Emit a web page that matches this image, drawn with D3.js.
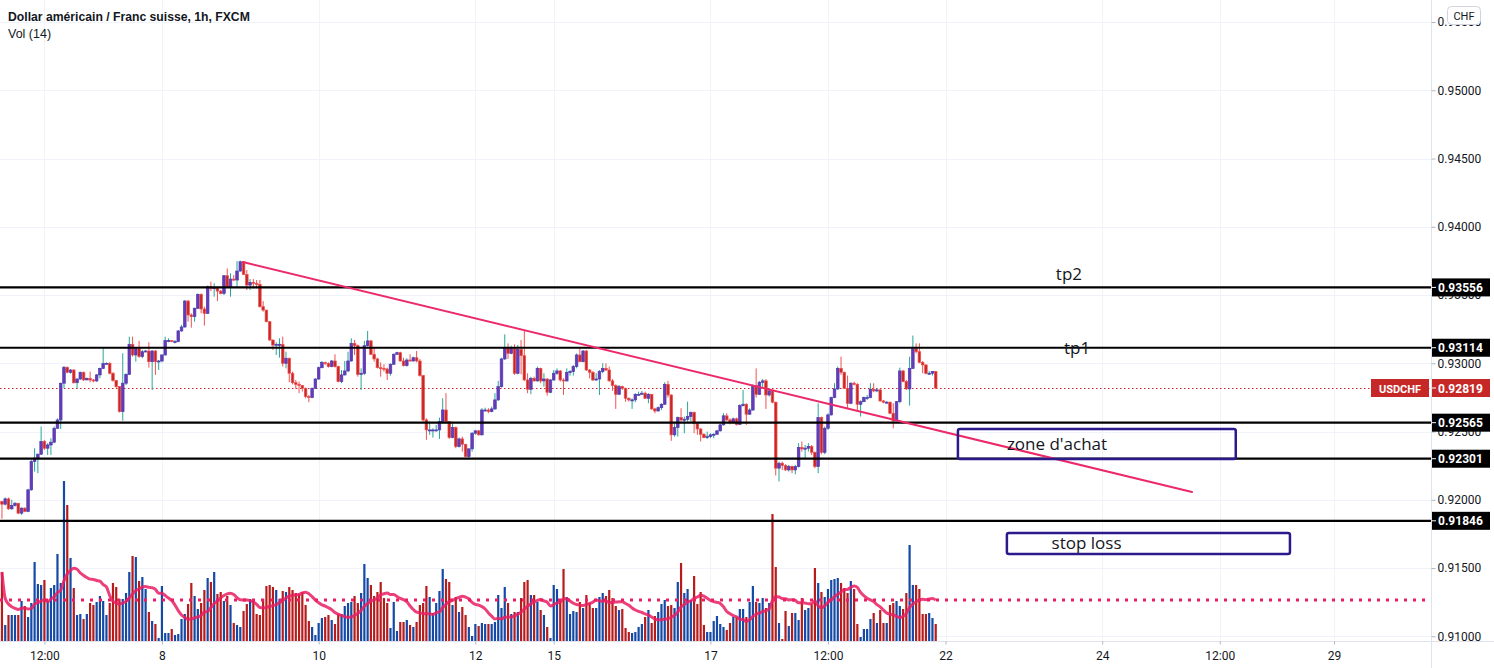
<!DOCTYPE html>
<html><head><meta charset="utf-8">
<script src="https://cdn.jsdelivr.net/npm/d3@7"></script>
<style>html,body{margin:0;padding:0;background:#fff;overflow:hidden}</style>
</head><body><svg id="c" width="1494" height="668"></svg>
<script>
const firstOpen = 0.91987;
const closes = [
0.91968,0.92007,0.91934,0.91958,0.91975,0.91902,0.91939,0.91915,0.92073,0.92280,
0.92305,0.92334,0.92427,0.92378,0.92402,0.92422,0.92524,0.92585,0.92854,0.92971,
0.92934,0.92951,0.92858,0.92885,0.92934,0.92878,0.92890,0.92878,0.92871,0.92915,
0.92963,0.92998,0.93000,0.92927,0.92873,0.92829,0.92646,0.92854,0.92919,0.93139,
0.93061,0.93110,0.93049,0.93085,0.93090,0.93012,0.93090,0.93012,0.93017,0.93061,
0.93166,0.93166,0.93159,0.93159,0.93237,0.93266,0.93456,0.93354,0.93342,0.93403,
0.93505,0.93398,0.93366,0.93561,0.93549,0.93554,0.93529,0.93512,0.93642,0.93561,
0.93617,0.93610,0.93676,0.93744,0.93651,0.93573,0.93593,0.93586,0.93578,0.93415,
0.93390,0.93305,0.93171,0.93134,0.93139,0.93139,0.93000,0.93037,0.92927,0.92858,
0.92846,0.92837,0.92817,0.92756,0.92749,0.92817,0.92885,0.92968,0.93007,0.93000,
0.92976,0.93017,0.92976,0.92866,0.92915,0.92944,0.93017,0.93146,0.93129,0.92919,
0.92927,0.93129,0.93164,0.93066,0.93032,0.92968,0.92963,0.92958,0.92927,0.92993,
0.93066,0.93078,0.93017,0.92983,0.93024,0.93017,0.93041,0.93017,0.92910,0.92585,
0.92512,0.92512,0.92512,0.92512,0.92573,0.92658,0.92573,0.92456,0.92529,0.92390,
0.92446,0.92407,0.92317,0.92373,0.92488,0.92505,0.92476,0.92658,0.92658,0.92646,
0.92666,0.92732,0.92829,0.93032,0.93110,0.93073,0.93110,0.92927,0.93102,0.93056,
0.92878,0.92810,0.92890,0.92871,0.92963,0.92871,0.92885,0.92788,0.92878,0.92927,
0.92944,0.92878,0.92871,0.92934,0.92939,0.92976,0.93061,0.93012,0.93090,0.92951,
0.92934,0.92878,0.92885,0.92939,0.92963,0.92951,0.92871,0.92837,0.92773,0.92829,
0.92817,0.92744,0.92732,0.92732,0.92773,0.92773,0.92781,0.92744,0.92773,0.92666,
0.92651,0.92675,0.92700,0.92846,0.92768,0.92476,0.92529,0.92602,0.92585,0.92590,
0.92610,0.92641,0.92561,0.92519,0.92480,0.92456,0.92463,0.92476,
0.92480,0.92505,0.92549,0.92615,0.92585,
0.92566,0.92593,0.92553,0.92690,0.92700,
0.92627,0.92658,0.92837,0.92773,0.92861,0.92871,0.92768,0.92798,0.92715,0.92232,
0.92268,0.92251,0.92219,0.92244,0.92219,0.92244,0.92383,0.92373,0.92378,0.92390,
0.92348,0.92244,0.92602,0.92348,0.92524,0.92622,0.92749,0.92812,0.92963,0.92934,0.92817,
0.92707,0.92854,0.92846,0.92700,0.92719,0.92749,0.92749,0.92810,
0.92798,0.92805,0.92724,0.92715,0.92715,0.92634,0.92578,0.92719,0.92944,0.92866,
0.92812,0.92963,0.93105,0.93085,0.93007,0.92988,0.92927,0.92927,0.92939,0.92819
];
const highs = [
0.91992,0.92017,0.92017,0.92000,0.91982,0.91975,0.91944,0.91944,0.92080,0.92292,
0.92378,0.92339,0.92537,0.92439,0.92415,0.92451,0.92537,0.92597,0.92858,0.92980,
0.92976,0.92958,0.92956,0.92890,0.92939,0.92939,0.92895,0.92939,0.92885,0.92922,
0.92968,0.93110,0.93007,0.93007,0.92934,0.92878,0.92834,0.93073,0.92927,0.93195,
0.93195,0.93115,0.93164,0.93098,0.93098,0.93154,0.93098,0.93098,0.93024,0.93066,
0.93195,0.93183,0.93171,0.93171,0.93244,0.93281,0.93464,0.93464,0.93366,0.93408,
0.93512,0.93512,0.93415,0.93569,0.93598,0.93586,0.93561,0.93537,0.93647,0.93695,
0.93659,0.93647,0.93749,0.93752,0.93749,0.93683,0.93617,0.93617,0.93610,0.93610,
0.93456,0.93390,0.93310,0.93171,0.93154,0.93183,0.93195,0.93085,0.93041,0.92939,
0.92878,0.92866,0.92841,0.92822,0.92768,0.92822,0.92890,0.92976,0.93017,0.93012,
0.93007,0.93024,0.93066,0.92983,0.92951,0.93017,0.93085,0.93183,0.93171,0.93139,
0.92963,0.93164,0.93237,0.93171,0.93110,0.93041,0.93007,0.92993,0.92968,0.93000,
0.93073,0.93085,0.93085,0.93041,0.93037,0.93066,0.93049,0.93090,0.93032,0.92915,
0.92597,0.92573,0.92524,0.92549,0.92602,0.92744,0.92781,0.92573,0.92561,0.92537,
0.92456,0.92463,0.92407,0.92378,0.92495,0.92512,0.92512,0.92671,0.92675,0.92671,
0.92683,0.92781,0.92871,0.93041,0.93212,0.93146,0.93129,0.93139,0.93134,0.93171,
0.93244,0.92927,0.92902,0.92902,0.92976,0.92968,0.92927,0.92890,0.92885,0.92951,
0.92963,0.92951,0.92890,0.92963,0.92951,0.92988,0.93073,0.93110,0.93098,0.93098,
0.92958,0.92944,0.92927,0.92951,0.93000,0.93000,0.92976,0.92885,0.92846,0.92841,
0.92837,0.92822,0.92749,0.92744,0.92781,0.92793,0.92798,0.92793,0.92781,0.92773,
0.92675,0.92683,0.92707,0.92861,0.92871,0.92773,0.92561,0.92610,0.92671,0.92610,
0.92719,0.92646,0.92646,0.92561,0.92524,0.92488,0.92500,0.92488,
0.92488,0.92512,0.92561,0.92634,0.92634,
0.92597,0.92602,0.92602,0.92700,0.92805,
0.92707,0.92671,0.92846,0.92963,0.92871,0.92885,0.92885,0.92817,0.92805,0.92719,
0.92280,0.92280,0.92261,0.92256,0.92251,0.92256,0.92415,0.92427,0.92402,0.92415,
0.92402,0.92353,0.92707,0.92610,0.92537,0.92634,0.92756,0.92854,0.92976,0.93049,0.92939,
0.92910,0.92861,0.92866,0.92854,0.92729,0.92756,0.92768,0.92854,
0.92854,0.92817,0.92817,0.92732,0.92724,0.92719,0.92707,0.92724,0.92968,0.92951,
0.92878,0.93049,0.93203,0.93146,0.93146,0.93017,0.92993,0.92944,0.92944,0.92944
];
const lows = [
0.91861,0.91958,0.91927,0.91927,0.91951,0.91895,0.91890,0.91909,0.91909,0.92066,
0.92207,0.92195,0.92329,0.92366,0.92329,0.92329,0.92415,0.92519,0.92519,0.92817,
0.92927,0.92924,0.92851,0.92817,0.92878,0.92871,0.92878,0.92861,0.92861,0.92863,
0.92890,0.92958,0.92993,0.92919,0.92866,0.92817,0.92639,0.92580,0.92841,0.92915,
0.93049,0.93012,0.93041,0.93037,0.93081,0.92968,0.92805,0.92915,0.92951,0.93007,
0.93056,0.93154,0.93154,0.93146,0.93154,0.93232,0.93261,0.93305,0.93261,0.93305,
0.93398,0.93366,0.93276,0.93361,0.93529,0.93488,0.93456,0.93505,0.93500,0.93554,
0.93488,0.93603,0.93561,0.93671,0.93647,0.93537,0.93537,0.93549,0.93549,0.93408,
0.93378,0.93300,0.93164,0.93098,0.93061,0.93041,0.92976,0.92963,0.92861,0.92846,
0.92812,0.92781,0.92793,0.92744,0.92715,0.92744,0.92812,0.92878,0.92963,0.92988,
0.92968,0.92971,0.92968,0.92861,0.92854,0.92910,0.92934,0.93012,0.93061,0.92902,
0.92805,0.92915,0.93122,0.93061,0.93012,0.92963,0.92902,0.92939,0.92878,0.92910,
0.92988,0.93061,0.93012,0.92976,0.92976,0.93012,0.93012,0.93007,0.92902,0.92573,
0.92439,0.92476,0.92456,0.92500,0.92446,0.92561,0.92561,0.92446,0.92451,0.92378,
0.92383,0.92353,0.92310,0.92305,0.92353,0.92476,0.92471,0.92471,0.92646,0.92634,
0.92641,0.92658,0.92724,0.92822,0.93024,0.93032,0.93066,0.92915,0.92919,0.92919,
0.92871,0.92781,0.92773,0.92866,0.92866,0.92854,0.92829,0.92763,0.92781,0.92871,
0.92915,0.92866,0.92768,0.92866,0.92910,0.92910,0.92963,0.93007,0.93007,0.92944,
0.92890,0.92871,0.92871,0.92768,0.92927,0.92944,0.92866,0.92798,0.92666,0.92768,
0.92805,0.92719,0.92719,0.92666,0.92715,0.92763,0.92768,0.92739,0.92707,0.92658,
0.92634,0.92646,0.92658,0.92695,0.92749,0.92432,0.92463,0.92463,0.92573,0.92488,
0.92573,0.92573,0.92488,0.92476,0.92427,0.92451,0.92446,0.92451,
0.92451,0.92476,0.92500,0.92544,0.92578,
0.92553,0.92558,0.92544,0.92549,0.92683,
0.92549,0.92622,0.92651,0.92749,0.92768,0.92817,0.92666,0.92756,0.92707,0.92178,
0.92134,0.92219,0.92212,0.92207,0.92195,0.92187,0.92236,0.92353,0.92300,0.92353,
0.92329,0.92232,0.92195,0.92334,0.92334,0.92512,0.92617,0.92744,0.92805,0.92915,0.92812,
0.92671,0.92700,0.92837,0.92646,0.92610,0.92715,0.92732,0.92744,
0.92788,0.92788,0.92719,0.92707,0.92705,0.92627,0.92524,0.92573,0.92707,0.92861,
0.92805,0.92690,0.92958,0.93073,0.93000,0.92927,0.92919,0.92915,0.92910,0.92812
];
const volumes = [
69,16,26,26,26,26,40,35,24,38,79,57,56,61,40,53,56,87,58,160,
136,83,53,26,27,22,27,38,36,39,45,40,26,38,58,54,42,42,48,69,
85,84,60,64,52,29,20,17,3,55,8,8,12,6,7,22,27,37,58,45,
32,38,51,63,59,69,47,49,40,45,36,18,16,14,
30,37,42,42,27,26,42,55,56,54,51,42,50,49,54,51,48,47,49,36,
20,14,6,18,23,24,26,21,17,27,27,35,38,39,45,38,48,77,63,56,
45,49,59,43,38,13,39,10,19,19,21,16,14,19,36,38,55,44,28,38,
50,72,62,59,36,44,29,34,26,14,5,17,
15,18,17,17,17,19,46,33,54,38,27,29,29,43,59,61,46,46,39,31,
26,14,3,56,52,42,72,44,27,30,29,39,33,46,38,33,33,44,48,45,
51,43,35,31,32,13,9,8,9,14,17,24,31,18,25,29,37,41,35,36,
33,59,78,48,52,41,65,37,49,16,9,9,
20,25,17,14,11,18,24,24,32,32,24,39,55,39,38,43,33,38,127,74,
18,2,30,15,28,28,21,43,31,33,37,73,58,49,44,52,61,62,63,58,
53,48,60,52,17,4,12,12,22,28,18,31,18,18,36,38,40,35,32,48,
96,56,56,52,27,27,28,23,17
];
const priceTicks = [0.955,0.950,0.945,0.940,0.935,0.930,0.925,0.920,0.915,0.910];
const timeTicks = [
  {bar:13,label:"12:00"},{bar:49,label:"8"},{bar:97,label:"10"},{bar:145,label:"12"},
  {bar:169,label:"15"},{bar:217,label:"17"},{bar:253,label:"12:00"},{bar:289,label:"22"},
  {bar:337,label:"24"},{bar:373,label:"12:00"},{bar:408,label:"29"}
];
const levels = [0.93556,0.93114,0.92565,0.92301,0.91846];
const trendPts = [{bar:73.8,price:0.93742},{bar:364.5,price:0.92057}];
const notes = [{text:"tp2",bar:322.8,price:0.93608},{text:"tp1",bar:325.3,price:0.93065}];
const boxes = [
  {text:"zone d'achat",bar0:292.8,bar1:377.9,top:0.92519,bottom:0.92299,textBar:307.8},
  {text:"stop loss",bar0:307.8,bar1:394.5,top:0.91757,bottom:0.91603,textBar:321.5}
];
const symbol = "USDCHF", currency = "CHF";
const title = "Dollar américain / Franc suisse, 1h, FXCM";
const volTitle = "Vol (14)";

const W = 1494, H = 668, plotR = 1431, plotB = 641;
const svg = d3.select("#c");
const font = "Roboto, 'Liberation Sans', Arial, sans-serif";

const x = d3.scaleLinear().domain([-0.6, 437.7]).range([0, plotR]);
const y = d3.scaleLinear().domain([0.909656, 0.956615]).range([plotB, 0]);
const vy = d3.scaleLinear().domain([0, 160]).range([plotB, plotB - 160]);

const bars = closes.map((c, i) => ({
  i, o: i ? closes[i-1] : firstOpen, c, h: highs[i], l: lows[i], v: volumes[i]
}));

const defs = svg.append("defs");
defs.append("clipPath").attr("id","plot").append("rect").attr("x",0).attr("y",0).attr("width",plotR).attr("height",plotB);

svg.append("rect").attr("width",W).attr("height",H).attr("fill","#fff");

// grid
const grid = svg.append("g").attr("clip-path","url(#plot)");
grid.selectAll(".hg").data(priceTicks).join("line")
  .attr("x1",0).attr("x2",plotR).attr("y1",d=>Math.round(y(d))+0.5).attr("y2",d=>Math.round(y(d))+0.5)
  .attr("stroke","#f0f3fa").attr("stroke-width",1);
grid.selectAll(".vg").data(timeTicks).join("line")
  .attr("y1",0).attr("y2",plotB).attr("x1",d=>Math.round(x(d.bar))+0.5).attr("x2",d=>Math.round(x(d.bar))+0.5)
  .attr("stroke","#f0f3fa").attr("stroke-width",1);

const plot = svg.append("g").attr("clip-path","url(#plot)");

// volume
const upVol = "#1449a6", dnVol = "#b71c1c";
plot.append("g").selectAll("rect").data(bars).join("rect")
  .attr("x",d=>x(d.i)-1.1).attr("width",2.2)
  .attr("y",d=>vy(d.v)).attr("height",d=>plotB - vy(d.v))
  .attr("fill",d=>d.c >= d.o ? upVol : dnVol);

const ma = volumes.map((v,i)=>d3.mean(volumes.slice(Math.max(0,i-13), i+1)));
const lastMa = ma[ma.length-1];
plot.append("line").attr("x1",0).attr("x2",plotR).attr("y1",vy(lastMa)).attr("y2",vy(lastMa))
  .attr("stroke","#e91e63").attr("stroke-width",3).attr("stroke-dasharray","3,6");
plot.append("path").datum(ma)
  .attr("d", d3.line().x((d,i)=>x(i)).y(d=>vy(d)).curve(d3.curveMonotoneX))
  .attr("fill","none").attr("stroke","#e91e63").attr("stroke-width",3).attr("stroke-opacity",0.85).attr("stroke-linejoin","round");

// last price dotted line
const lastPrice = closes[closes.length-1];
plot.append("line").attr("x1",0).attr("x2",plotR).attr("y1",Math.round(y(lastPrice))+0.5).attr("y2",Math.round(y(lastPrice))+0.5)
  .attr("stroke","#c62828").attr("stroke-width",1).attr("stroke-dasharray","1.5,2.5");

// candles
const cg = plot.append("g");
const upBody = "#673ab7", upBorder = "#4f3bb3", upWick = "#26a69a";
const dnBody = "#c62828", dnBorder = "#ef5350", dnWick = "#ef5350";
cg.selectAll("line").data(bars).join("line")
  .attr("x1",d=>x(d.i)).attr("x2",d=>x(d.i)).attr("y1",d=>y(d.h)).attr("y2",d=>y(d.l))
  .attr("stroke",d=>d.c>=d.o?upWick:dnWick).attr("stroke-width",1);
cg.selectAll("rect").data(bars).join("rect")
  .attr("x",d=>x(d.i)-1.3).attr("width",2.6)
  .attr("y",d=>y(Math.max(d.o,d.c))).attr("height",d=>Math.max(1,Math.abs(y(d.o)-y(d.c))))
  .attr("fill",d=>d.c>=d.o?upBody:dnBody)
  .attr("stroke",d=>d.c>=d.o?upBorder:dnBorder).attr("stroke-width",0.7);

// horizontal levels
plot.selectAll(".lvl").data(levels).join("line")
  .attr("x1",0).attr("x2",plotR).attr("y1",d=>y(d)).attr("y2",d=>y(d))
  .attr("stroke","#000").attr("stroke-width",2.2);

// trend line
plot.append("line")
  .attr("x1",x(trendPts[0].bar)).attr("y1",y(trendPts[0].price))
  .attr("x2",x(trendPts[1].bar)).attr("y2",y(trendPts[1].price))
  .attr("stroke","#ec2a6a").attr("stroke-width",2).attr("stroke-linecap","round");

// boxes
boxes.forEach(b=>{
  plot.append("rect").attr("x",x(b.bar0)).attr("y",y(b.top))
    .attr("width",x(b.bar1)-x(b.bar0)).attr("height",y(b.bottom)-y(b.top))
    .attr("fill","none").attr("stroke","#2a1a8c").attr("stroke-width",2.5).attr("rx",2);
  plot.append("text").attr("x",x(b.textBar)).attr("y",(y(b.top)+y(b.bottom))/2+6)
    .attr("font-family","'Open Sans', sans-serif").attr("font-size",17).attr("fill","#131722").text(b.text);
});
notes.forEach(n=>{
  plot.append("text").attr("x",x(n.bar)).attr("y",y(n.price))
    .attr("font-family","'Open Sans', sans-serif").attr("font-size",17).attr("fill","#131722").text(n.text);
});

// axes borders
svg.append("line").attr("x1",plotR+0.5).attr("x2",plotR+0.5).attr("y1",0).attr("y2",H).attr("stroke","#e0e3eb");
svg.append("line").attr("x1",0).attr("x2",W).attr("y1",plotB+0.5).attr("y2",plotB+0.5).attr("stroke","#e0e3eb");

// right axis
const ra = svg.append("g").attr("transform",`translate(${plotR+0.5},0)`)
  .call(d3.axisRight(y).tickValues(priceTicks).tickSize(4).tickFormat(d3.format(".5f")));
ra.select(".domain").remove();
ra.selectAll("line").attr("stroke","#b2b5be");
ra.selectAll("text").attr("font-family",font).attr("font-size",12).attr("fill","#131722").attr("x",6);

// bottom axis
const ba = svg.append("g").attr("transform",`translate(0,${plotB+0.5})`)
  .call(d3.axisBottom(x).tickValues(timeTicks.map(d=>d.bar)).tickSize(3)
    .tickFormat((d,i)=>timeTicks[i].label));
ba.select(".domain").remove();
ba.selectAll("line").attr("stroke","#b2b5be");
ba.selectAll("text").attr("font-family",font).attr("font-size",12).attr("fill","#131722").attr("y",10);

// level labels
const lab = svg.append("g");
levels.forEach(p=>{
  const yy = y(p);
  lab.append("rect").attr("x",plotR+1).attr("y",yy-9).attr("width",58).attr("height",18).attr("fill","#000");
  lab.append("line").attr("x1",plotR+1).attr("x2",plotR+5).attr("y1",yy).attr("y2",yy).attr("stroke","#fff");
  lab.append("text").attr("x",plotR+7).attr("y",yy+4.5).attr("font-family",font).attr("font-weight",700)
    .attr("font-size",12).attr("fill","#fff").text(d3.format(".5f")(p));
});
// last price label
{
  const yy = y(lastPrice);
  lab.append("rect").attr("x",plotR+1).attr("y",yy-9).attr("width",58).attr("height",18).attr("fill","#c62828");
  lab.append("line").attr("x1",plotR+1).attr("x2",plotR+5).attr("y1",yy).attr("y2",yy).attr("stroke","#fff");
  lab.append("text").attr("x",plotR+7).attr("y",yy+4.5).attr("font-family",font).attr("font-weight",700)
    .attr("font-size",12).attr("fill","#fff").text(d3.format(".5f")(lastPrice));
  lab.append("rect").attr("x",plotR-60).attr("y",yy-9).attr("width",58).attr("height",18).attr("fill","#c62828");
  lab.append("text").attr("x",plotR-31).attr("y",yy+4.5).attr("text-anchor","middle").attr("font-family",font)
    .attr("font-weight",700).attr("font-size",11).attr("fill","#fff").text(symbol);
}
// currency badge
svg.append("rect").attr("x",1447.5).attr("y",6.5).attr("width",33).attr("height",18).attr("rx",4)
  .attr("fill","#fff").attr("stroke","#d1d4dc");
svg.append("text").attr("x",1464).attr("y",19.5).attr("text-anchor","middle").attr("font-family",font)
  .attr("font-size",11).attr("fill","#131722").text(currency);

// titles
svg.append("text").attr("x",8).attr("y",21).attr("font-family","'Liberation Sans', Arial, sans-serif").attr("font-weight",700)
  .attr("font-size",12.2).attr("fill","#131722").text(title);
svg.append("text").attr("x",8).attr("y",38).attr("font-family","'Liberation Sans', Arial, sans-serif")
  .attr("font-size",12.5).attr("fill","#131722").text(volTitle);
</script></body></html>
